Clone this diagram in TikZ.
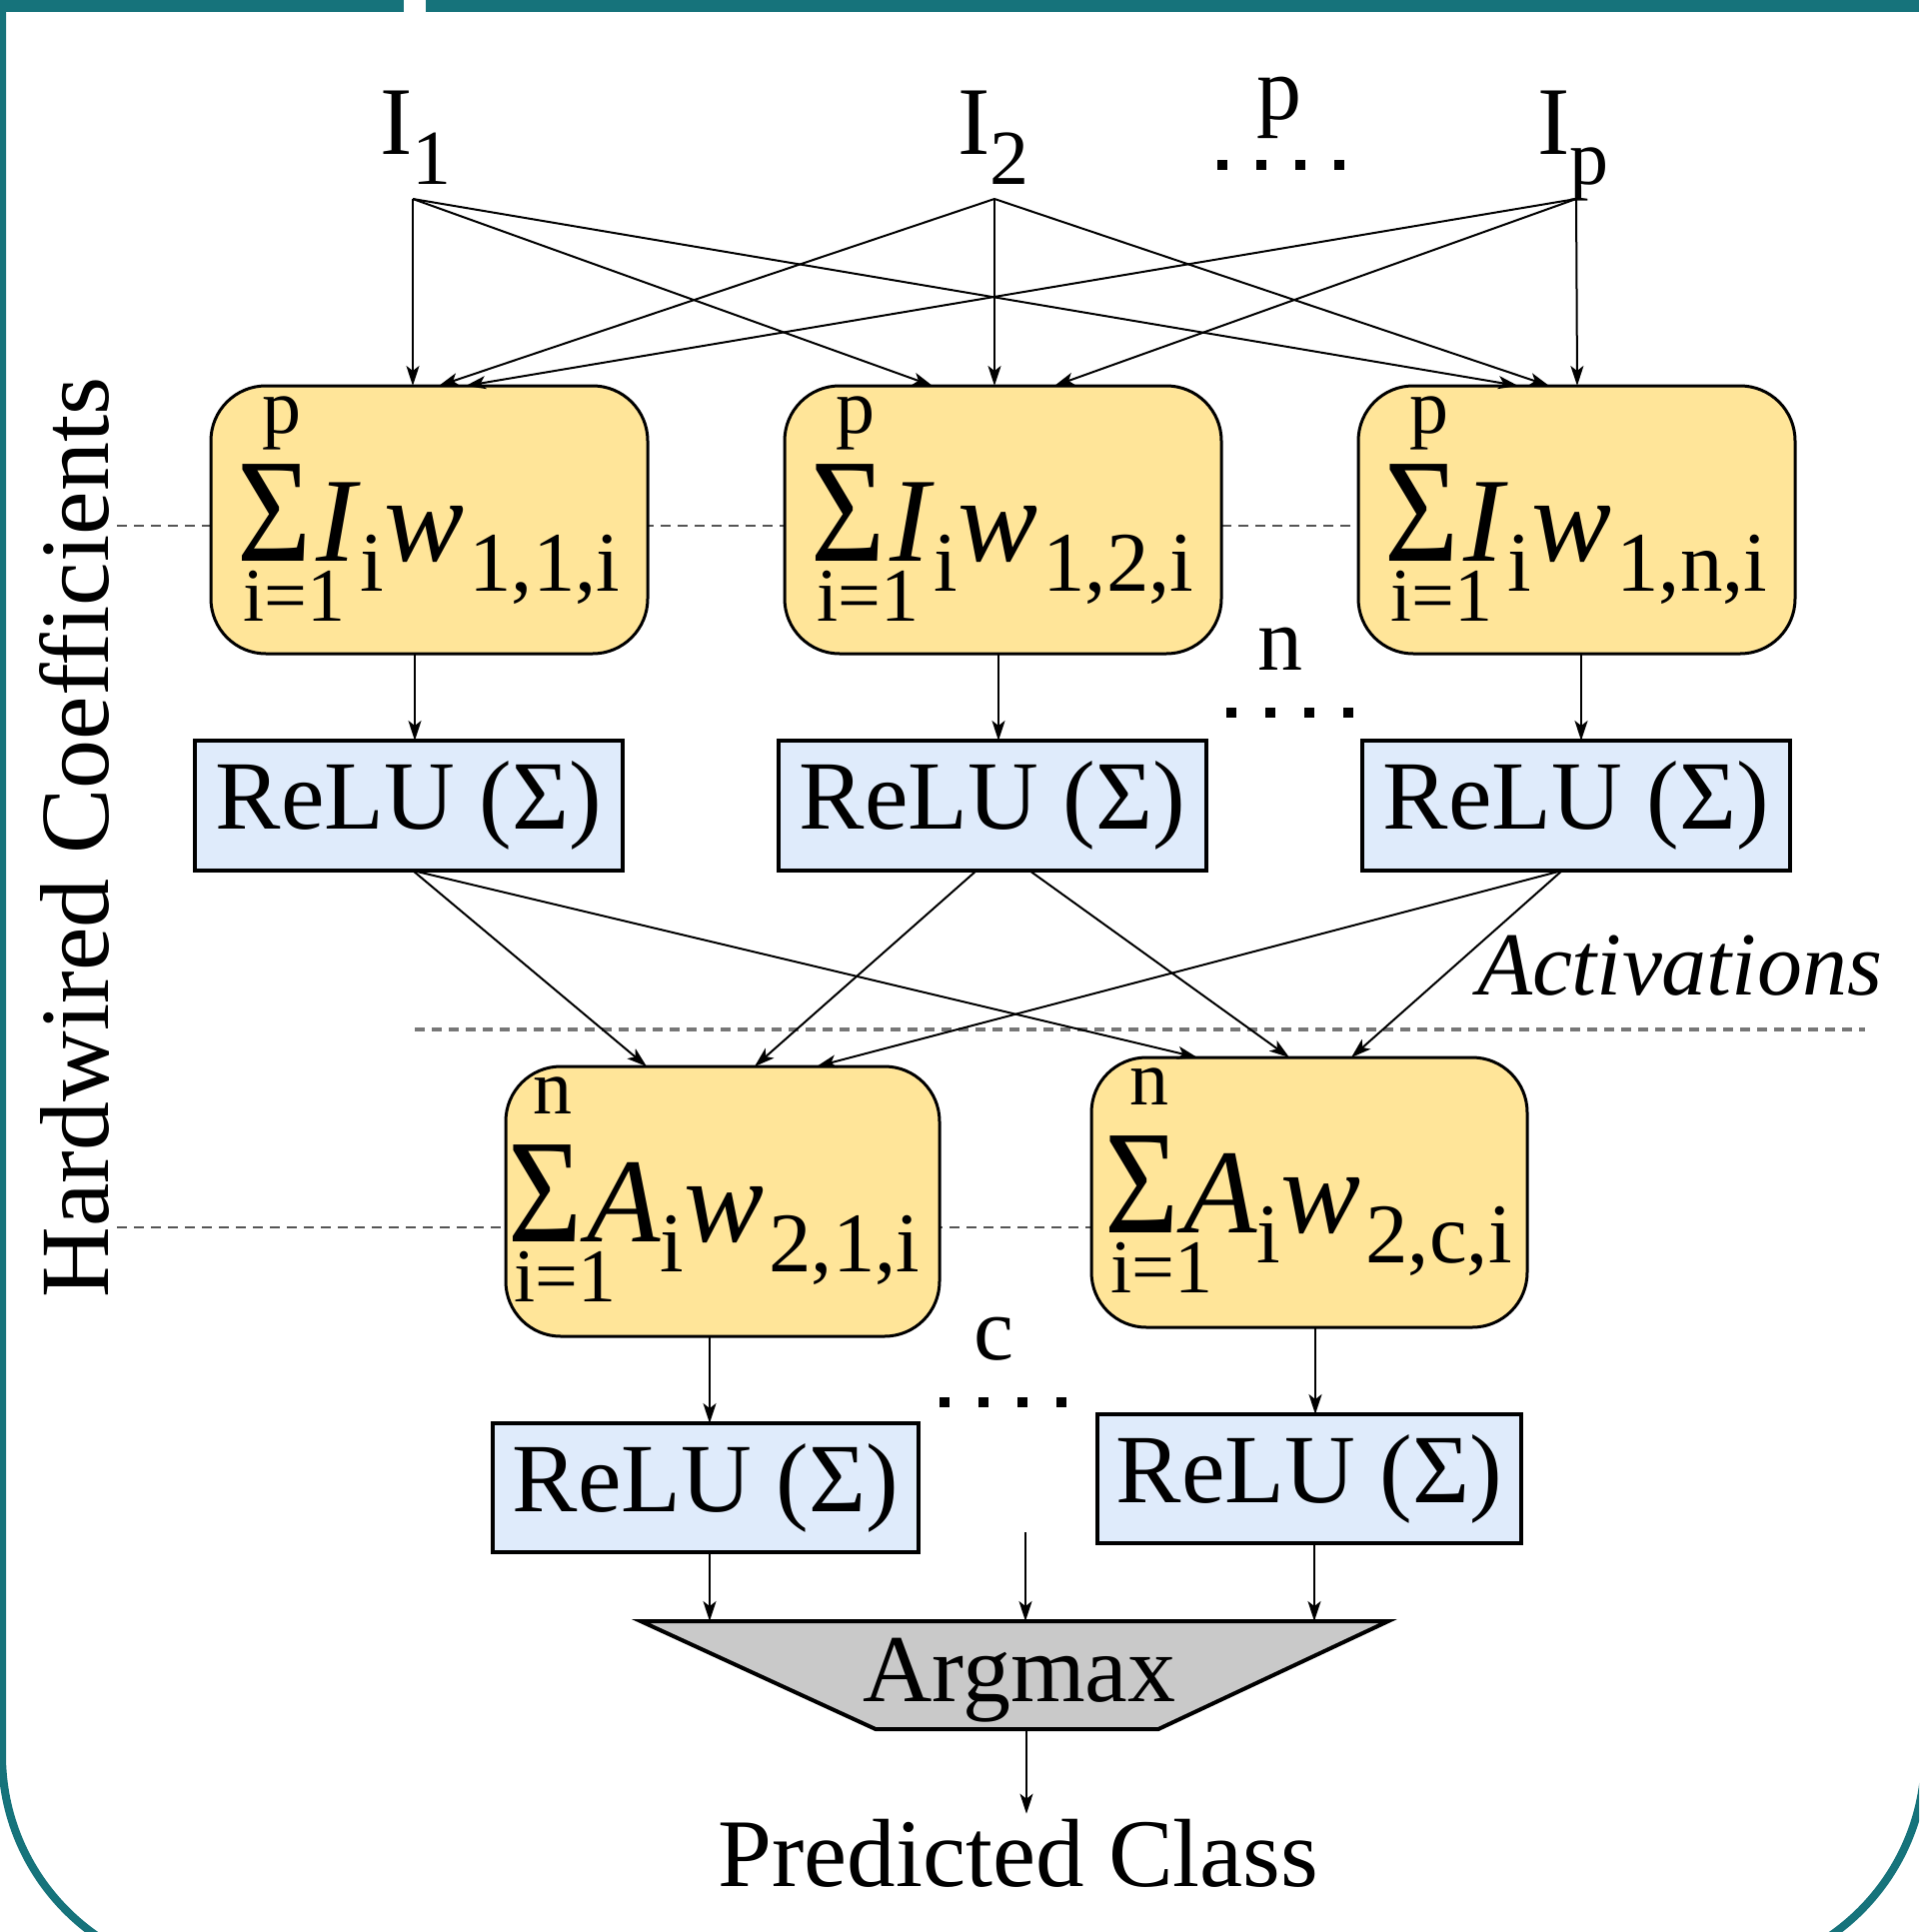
\documentclass[tikz,border=0pt]{standalone}
\usepackage{fontspec}
\setmainfont{Liberation Serif}
\usetikzlibrary{arrows.meta,calc}

\definecolor{frameteal}{RGB}{22,115,123}
\definecolor{sumfill}{RGB}{255,229,153}
\definecolor{relufill}{RGB}{223,235,251}
\definecolor{argfill}{RGB}{201,201,201}
\definecolor{guidegray}{RGB}{85,85,85}

\pgfdeclarelayer{bg}
\pgfsetlayers{bg,main}

\newcommand\fs[1]{\fontsize{#1}{#1}\selectfont}

% large sigma with its limits set above and below
\newsavebox\sigbox
\newcommand\limsum[1]{%
  \sbox\sigbox{\scalebox{0.86}[1]{\fs{148}Σ}}%
  \rlap{\hbox to \wd\sigbox{\hss\kern16pt\raisebox{128pt}{\fs{78}#1}\hss}}%
  \rlap{\hbox to \wd\sigbox{\hss\kern40pt\raisebox{-60pt}{\fs{76}i=1}\hss}}%
  \usebox\sigbox}

\tikzset{
  plain/.style={inner sep=0pt, outer sep=0pt},
  sumbox/.style={draw=black, line width=3pt, fill=sumfill, rounded corners=55pt,
    minimum width=437pt, minimum height=268pt, anchor=north west, inner sep=0pt, outer sep=0pt},
  relubox/.style={draw=black, line width=3.5pt, fill=relufill, minimum width=428pt,
    minimum height=130pt, anchor=north west, inner sep=0pt, outer sep=0pt, font=\fs{98}},
  link/.style={line width=2pt, -{Stealth[length=20pt,width=13pt,inset=5pt]}},
  guide/.style={draw=guidegray, line width=2pt, dash pattern=on 10pt off 7pt},
  actguide/.style={draw=guidegray!80, line width=3.5pt, dash pattern=on 10pt off 7pt},
  ellipsisdots/.style={line width=10pt, dash pattern=on 10pt off 29pt},
}

% weighted sum  sum_{i=1}^{#3} #4_i w_{#5}  written inside box #1
\newcommand\sumterm[5]{%
  \node[plain, anchor=base west, font=\fs{120}] (#1-f) at ($(#1.north west)+(#2,175)$)
    {\limsum{#3}\kern5pt\textit{#4}\raisebox{-30pt}{\fs{85}i}\textit{w}\kern5pt\raisebox{-30pt}{\fs{85}#5}};
}

\begin{document}
\begin{tikzpicture}[x=1pt,y=-1pt]
\useasboundingbox (0,0) rectangle (1920,1933);
\clip (0,0) rectangle (1920,1933);

% frame
\fill[frameteal] (0,0) rectangle (404,12);
\fill[frameteal] (426,0) rectangle (1920,12);
\draw[frameteal, line width=8pt, rounded corners=220pt]
  (2,-60) -- (2,1976) -- (1926,1976) -- (1926,-60);

% inputs
\node[plain, anchor=base west, font=\fs{97}] (in1) at (380,154) {I\raisebox{-30pt}{\fs{78}1}};
\node[plain, anchor=base west, font=\fs{97}] (in2) at (958,154) {I\raisebox{-30pt}{\fs{78}2}};
\node[plain, anchor=base west, font=\fs{97}] (inp) at (1538,154) {I\raisebox{-30pt}{\fs{78}p}};
\coordinate (in1o) at (413,199);
\coordinate (in2o) at (995,199);
\coordinate (inpo) at (1577,199);
\node[plain, anchor=base, font=\fs{90}] (pcount) at (1280,119) {p};
\draw[ellipsisdots] (1218,165) -- (1350,165);

% first layer: weighted sums
\node[sumbox] (s11) at (211,386) {};
\node[sumbox] (s12) at (785,386) {};
\node[sumbox] (s13) at (1359,386) {};
\sumterm{s11}{26}{p}{I}{1,1,i}
\sumterm{s12}{26}{p}{I}{1,2,i}
\sumterm{s13}{26}{p}{I}{1,n,i}

% first layer: activations
\node[relubox] (r11) at (195,741) {ReLU (Σ)};
\node[relubox] (r12) at (779,741) {ReLU (Σ)};
\node[relubox] (r13) at (1363,741) {ReLU (Σ)};
\node[plain, anchor=base, font=\fs{90}] (ncount) at (1281,670) {n};
\draw[ellipsisdots] (1227,713) -- (1360,713);

\node[plain, anchor=base west, font=\itshape\fs{90}] (act) at (1478,995) {Activations};

% second layer: weighted sums
\node[sumbox, minimum width=434pt, minimum height=270pt] (s21) at (506,1067) {};
\node[sumbox, minimum width=436pt, minimum height=270pt] (s22) at (1092,1058) {};
\sumterm{s21}{2}{n}{A}{2,1,i}
\sumterm{s22}{13}{n}{A}{2,c,i}

% second layer: activations
\node[relubox, minimum width=426pt, minimum height=129pt] (r21) at (493,1424) {ReLU (Σ)};
\node[relubox, minimum width=424pt, minimum height=129pt] (r22) at (1098,1415) {ReLU (Σ)};
\node[plain, anchor=base, font=\fs{90}] (ccount) at (994,1360) {c};
\draw[ellipsisdots] (940,1403) -- (1073,1403);

% argmax
\node[plain, minimum width=748pt, minimum height=108pt, anchor=north] (am) at (1015,1622) {};
\draw[line width=4pt, fill=argfill, line join=miter]
  (am.north west) -- (am.north east) -- ($(am.south east)+(-230,0)$)
  -- ($(am.south west)+(235,0)$) -- cycle;
\node[plain, anchor=base, font=\fs{96}] (amtxt) at (1020,1702) {Argmax};
\coordinate (amin) at (1026,1533);
\node[plain, anchor=base, font=\fs{97}] (pc) at (1019,1887) {Predicted Class};

% side label
\node[plain, rotate=90, anchor=base, font=\fs{98}] (hw) at (108,838) {Hardwired Coefficients};

% guide lines behind the boxes
\begin{pgfonlayer}{bg}
  \coordinate (g1) at (117,526);
  \coordinate (g2) at (117,1228);
  \coordinate (g3) at (415,1030);
  \draw[guide] (g1) -- (g1 -| s13.west);
  \draw[guide] (g2) -- (g2 -| s22.west);
  \draw[actguide] (g3) -- (1866,1030);
\end{pgfonlayer}

% inputs to first layer
\foreach \src/\dst/\xx in {in1o/s11/413, in2o/s11/439, inpo/s11/466,
                           in1o/s12/933, in2o/s12/995, inpo/s12/1055,
                           in1o/s13/1519, in2o/s13/1550, inpo/s13/1578}
  \draw[link] (\src) -- (\dst.north -| \xx,0);

% sums to activations
\draw[link] (s11.south -| 415,0) -- (r11.north -| 415,0);
\draw[link] (s12.south -| 999,0) -- (r12.north -| 999,0);
\draw[link] (s13.south -| 1582,0) -- (r13.north -| 1582,0);

% first layer activations to second layer
\draw[link] (r11.south -| 413,0) -- (s21.north -| 647,0);
\draw[link] (r11.south -| 413,0) -- (s22.north -| 1198,0);
\draw[link] (r12.south -| 977,0) -- (s21.north -| 755,0);
\draw[link] (r12.south -| 1030,0) -- (s22.north -| 1290,0);
\draw[link] (r13.south -| 1563,0) -- (s21.north -| 817,0);
\draw[link] (r13.south -| 1563,0) -- (s22.north -| 1352,0);

% second layer sums to activations
\draw[link] (s21.south -| 710,0) -- (r21.north -| 710,0);
\draw[link] (s22.south -| 1316,0) -- (r22.north -| 1316,0);

% into and out of argmax
\draw[link] (r21.south -| 710,0) -- (am.north -| 710,0);
\draw[link] (amin) -- (am.north -| 1026,0);
\draw[link] (r22.south -| 1315,0) -- (am.north -| 1315,0);
\draw[link, shorten >=5pt] (am.south -| 1027,0) -- (pc.north -| 1027,0);
\end{tikzpicture}
\end{document}
